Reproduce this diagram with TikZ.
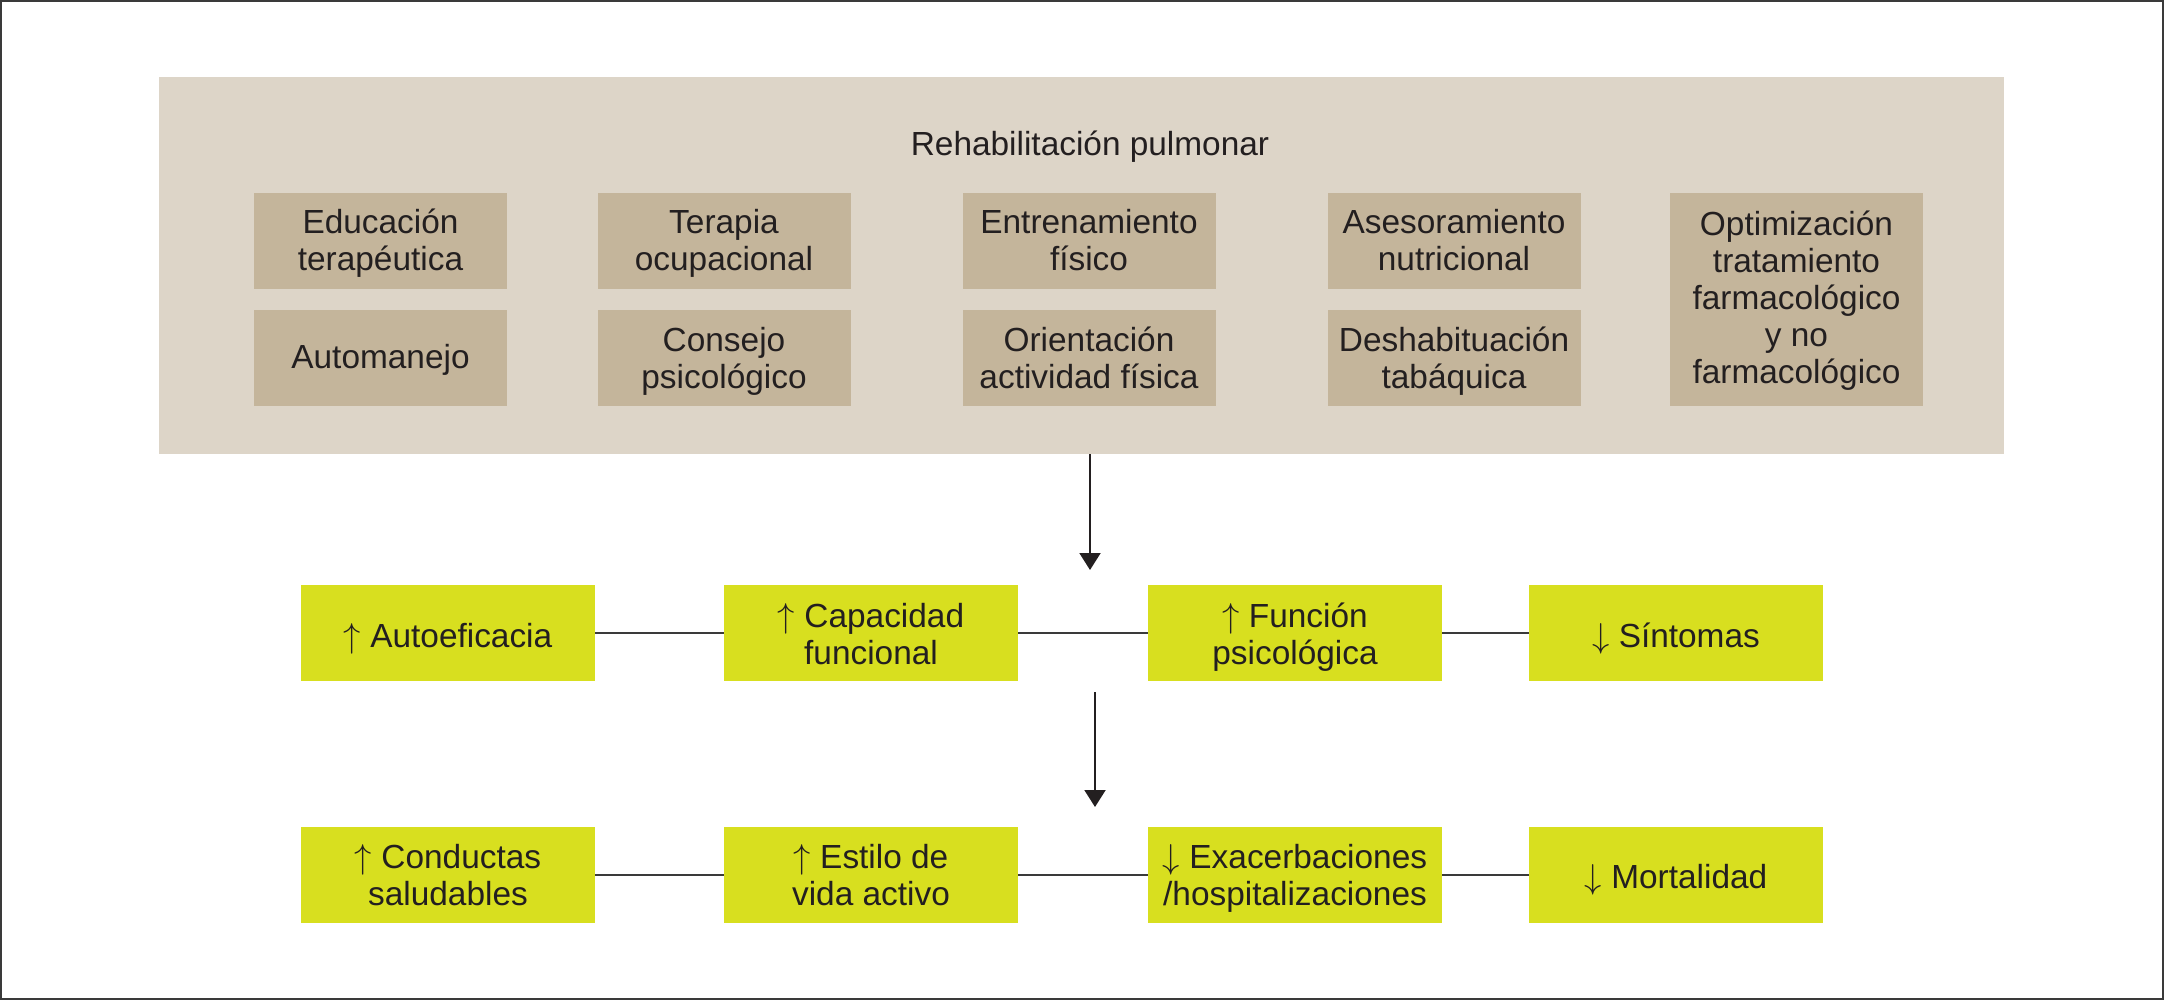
\documentclass[tikz,border=0pt]{standalone}
\usepackage{fontspec}
\setmainfont{Liberation Sans}
\usetikzlibrary{arrows.meta}
\definecolor{panelc}{HTML}{DDD5C8}
\definecolor{subc}{HTML}{C4B59B}
\definecolor{grnc}{HTML}{D8DF1F}
\definecolor{inkc}{HTML}{231F20}
\definecolor{framec}{HTML}{3A3A3A}
\newcommand{\upar}{\smash{$\uparrow$}}
\newcommand{\dnar}{\smash{$\downarrow$}}
% [#1] = drop of the block, #2 = number of lines, #3 = lines separated by \\
\newcommand{\bt}[3][5.75pt]{\raisebox{-\dimexpr #1+9.25pt*(#2-1)\relax}[0pt][0pt]{\vbox{\let\\\cr\baselineskip=18.5pt\lineskiplimit=-\maxdimen\lineskip=0pt\halign{\hfil##\hfil\cr#3\crcr}}}}
\begin{document}
\begin{tikzpicture}[x=0.5pt,y=-0.5pt,
  every node/.style={font=\fontsize{16.7}{18.5}\selectfont, text=inkc, inner sep=0pt},
  subbox/.style={fill=subc, minimum width=126.5pt, minimum height=48pt},
  grnbox/.style={fill=grnc, minimum width=147pt, minimum height=48pt},
  link/.style={draw=framec, line width=1pt},
  arr/.style={draw=inkc, line width=1pt, -{Triangle[length=8.5pt,width=10.5pt]}}]
\useasboundingbox (0,0) rectangle (2164,1000);
\draw[framec, line width=1pt] (1,1) rectangle (2163,999);
% panel
\node[fill=panelc, minimum width=922.5pt, minimum height=188.5pt] (panel) at (1081.5,265.5) {};
\node (title) at (1090,147) {Rehabilitación pulmonar};
% sub boxes
\node[subbox] (s11) at (380.5,241) {\bt{2}{Educación\\terapéutica}};
\node[subbox] (s21) at (380.5,358) {\bt[5pt]{1}{Automanejo}};
\node[subbox] (s12) at (724,241) {\bt{2}{Terapia\\ocupacional}};
\node[subbox] (s22) at (724,358) {\bt{2}{Consejo\\psicológico}};
\node[subbox] (s13) at (1089,241) {\bt{2}{Entrenamiento\\físico}};
\node[subbox] (s23) at (1089,358) {\bt{2}{Orientación\\actividad física}};
\node[subbox] (s14) at (1454,241) {\bt{2}{Asesoramiento\\nutricional}};
\node[subbox] (s24) at (1454,358) {\bt{2}{Deshabituación\\tabáquica}};
\node[subbox, minimum height=106pt] (s15) at (1796.5,299.5) {\bt[5pt]{5}{Optimización\\tratamiento\\farmacológico\\y no\\farmacológico}};
% green row 1
\node[grnbox] (a1) at (448,633) {\bt[7pt]{1}{\upar{} Autoeficacia}};
\node[grnbox] (a2) at (871,633) {\bt[6.25pt]{2}{\upar{} Capacidad\\funcional}};
\node[grnbox] (a3) at (1295,633) {\bt[6.25pt]{2}{\upar{} Función\\psicológica}};
\node[grnbox] (a4) at (1676,633) {\bt[7pt]{1}{\dnar{} Síntomas}};
% green row 2
\node[grnbox] (b1) at (448,874.5) {\bt[6.25pt]{2}{\upar{} Conductas\\saludables}};
\node[grnbox] (b2) at (871,874.5) {\bt[6.25pt]{2}{\upar{} Estilo de\\vida activo}};
\node[grnbox] (b3) at (1295,874.5) {\bt[6.25pt]{2}{\dnar{} Exacerbaciones\\/hospitalizaciones}};
\node[grnbox] (b4) at (1676,874.5) {\bt[7pt]{1}{\dnar{} Mortalidad}};
% connectors
\draw[link] (a1.east) -- (a2.west);
\draw[link] (a2.east) -- (a3.west);
\draw[link] (a3.east) -- (a4.west);
\draw[link] (b1.east) -- (b2.west);
\draw[link] (b2.east) -- (b3.west);
\draw[link] (b3.east) -- (b4.west);
% arrows
\coordinate (t1) at (1090,570);
\coordinate (f2) at (1095,692);
\coordinate (t2) at (1095,807);
\draw[arr] (panel.south -| t1) -- (t1);
\draw[arr] (f2) -- (t2);
\end{tikzpicture}
\end{document}
